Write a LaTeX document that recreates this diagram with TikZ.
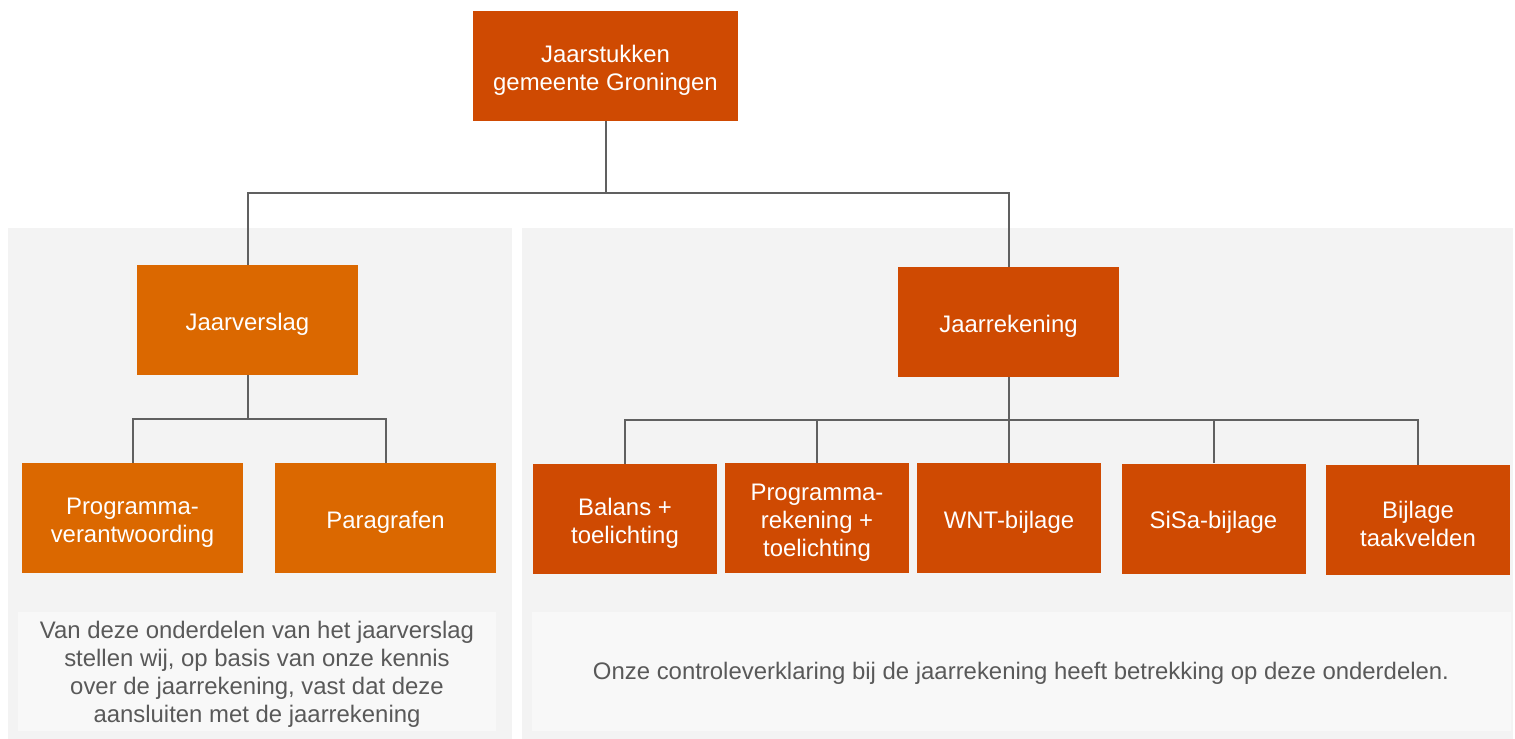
\documentclass[tikz,border=0pt]{standalone}
\usepackage{fontspec}
\setmainfont{Liberation Sans}
\definecolor{darkor}{HTML}{CF4A02}
\definecolor{lightor}{HTML}{DB6800}
\definecolor{panelbg}{HTML}{F3F3F3}
\definecolor{notebg}{HTML}{F8F8F8}
\definecolor{linegray}{HTML}{606060}
\definecolor{txtgray}{HTML}{595959}
\newcommand\tstrut{\rule{0pt}{12.6bp}}
\begin{document}
\begin{tikzpicture}[x=0.5bp,y=-0.5bp,
  box/.style={rectangle, inner sep=0pt, align=center, text=white,
    font=\fontsize{12}{14}\selectfont, minimum height=55bp},
  wide/.style={box, minimum width=110.5bp},
  narrow/.style={box, minimum width=92bp},
  darkbox/.style={fill=darkor},
  lightbox/.style={fill=lightor},
  conn/.style={draw=linegray, line width=1bp},
  panel/.style={fill=panelbg, draw=none},
  note/.style={fill=notebg, draw=none},
  notetext/.style={align=center, text=txtgray, font=\fontsize{12}{14}\selectfont, inner sep=0pt}
]
\useasboundingbox (0,0) rectangle (1515,739);
% panels
\fill[panel] (8,228) rectangle (512,739);
\fill[panel] (522,228) rectangle (1513,739);
\fill[note] (18,612) rectangle (496,731);
\fill[note] (532,612) rectangle (1511,731);
% nodes
\node[box, darkbox, minimum width=132.5bp] (top) at (605.5,66) {\tstrut Jaarstukken\\gemeente Groningen};
\node[wide, lightbox] (jv) at (247.5,320) {\tstrut Jaarverslag};
\node[wide, lightbox] (prog) at (132.5,518) {\tstrut Programma-\\verantwoording};
\node[wide, lightbox] (par) at (385.5,518) {\tstrut Paragrafen};
\node[wide, darkbox] (jr) at (1008.5,322) {\tstrut Jaarrekening};
\node[narrow, darkbox] (bal) at (625,519) {\tstrut Balans +\\toelichting};
\node[narrow, darkbox] (prk) at (817,518) {\tstrut Programma-\\rekening +\\toelichting};
\node[narrow, darkbox] (wnt) at (1009,518) {\tstrut WNT-bijlage};
\node[narrow, darkbox] (sisa) at (1213.5,518.5) {\tstrut SiSa-bijlage};
\node[narrow, darkbox] (bij) at (1418,520) {\tstrut Bijlage\\taakvelden};
% notes
\node[notetext] (n1) at (257,674) {Van deze onderdelen van het jaarverslag\\stellen wij, op basis van onze kennis\\over de jaarrekening, vast dat deze\\aansluiten met de jaarrekening};
\node[notetext] (n2) at (1021,673) {Onze controleverklaring bij de jaarrekening heeft betrekking op deze onderdelen.};
% connectors
\coordinate (b1) at (605.5,193);
\coordinate (b2) at (247.5,419);
\coordinate (b3) at (1008.5,420);
\draw[conn] (top.south) -- (b1) -| (jv.north);
\draw[conn] (b1) -| (jr.north);
\draw[conn] (jv.south) -- (b2) -| (prog.north);
\draw[conn] (b2) -| (par.north);
\draw[conn] (jr.south) -- (b3) -| (bal.north);
\draw[conn] (b3) -| (prk.north);
\draw[conn] (b3) -| (wnt.north);
\draw[conn] (b3) -| (sisa.north);
\draw[conn] (b3) -| (bij.north);
\end{tikzpicture}
\end{document}
